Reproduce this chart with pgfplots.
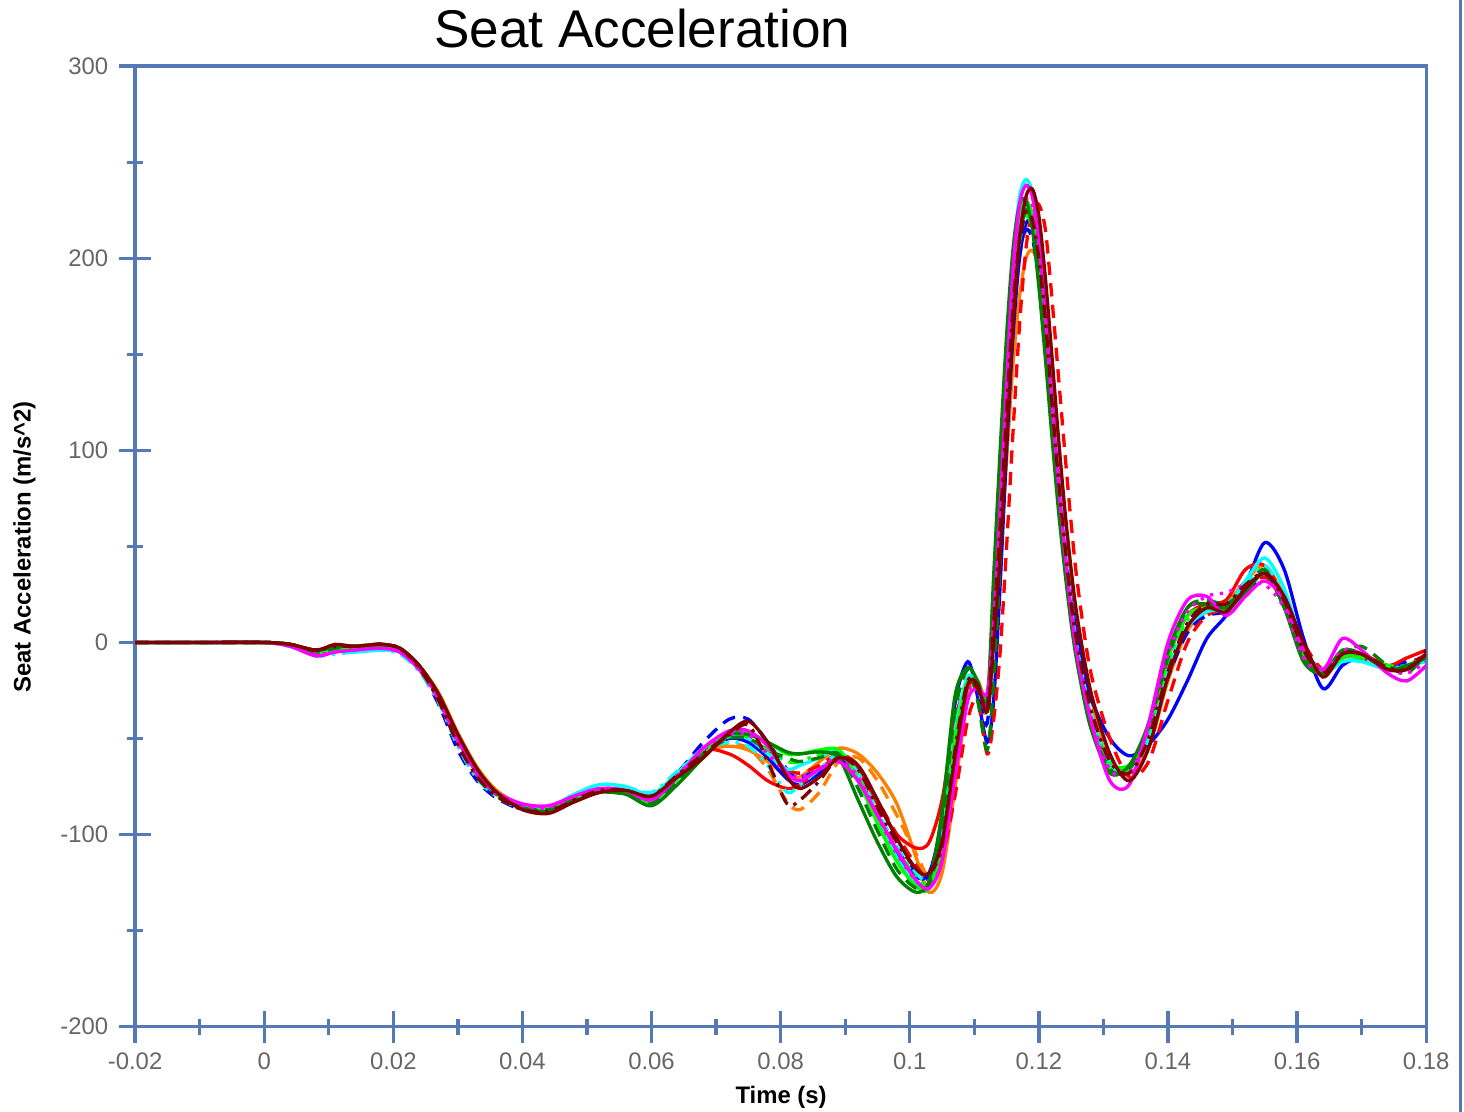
\documentclass[border=0pt]{standalone}
\usepackage{pgfplots}
\pgfplotsset{compat=1.18}
\usepackage{pgfplotstable}
\usepackage{fontspec}
\setmainfont{Liberation Sans}
\definecolor{axisblue}{HTML}{5479B4}
\definecolor{tickgray}{HTML}{666666}
\definecolor{cblue}{HTML}{0000FF}
\definecolor{cred}{HTML}{FF0000}
\definecolor{cgreen}{HTML}{008000}
\definecolor{clime}{HTML}{00FF00}
\definecolor{ccyan}{HTML}{00FFFF}
\definecolor{cmag}{HTML}{FF00FF}
\definecolor{corange}{HTML}{FF8000}
\definecolor{cbrown}{HTML}{800000}

% runs: b=blue r=red g=dark green l=lime c=cyan m=magenta o=orange k=brown; 1 solid, 2 broken
\pgfplotstableread{
x b1 b2 r1 r2 g1 g2 l1 l2 c1 c2 m1 m2 o1 o2 k1 k2
-0.020 0 0 0 0 0 0 0 0 0 0 0 0 0 0 0 0
-0.010 0 0 0 0 0 0 0 0 0 0 0 0 0 0 0 0
0.000 0 0 0 0 0 0 0 0 0 0 0 0 0 0 0 0
0.004 -1 -1 -1 -1 -1 -1 -1 -1 -2 -2 -2 -2 -1 -1 -1 -1
0.008 -5 -5 -4 -4 -4 -5 -5 -5 -6 -7 -7 -6 -4 -5 -4 -4
0.011 -3 -3 -2 -2 -2 -3 -3 -3 -4 -6 -5 -5 -2 -3 -1 -2
0.014 -3 -3 -3 -3 -2 -2 -3 -3 -5 -5 -4 -4 -2 -2 -2 -2
0.018 -1 -1 -1 -1 -1 -1 -2 -2 -4 -4 -3 -3 -1 -1 -1 -1
0.021 -4 -4 -3 -4 -3 -3 -4 -4 -5 -6 -5 -5 -3 -4 -3 -3
0.024 -13 -14 -12 -13 -12 -13 -13 -14 -14 -15 -14 -14 -12 -13 -12 -13
0.027 -28 -32 -27 -30 -27 -28 -28 -30 -29 -31 -29 -30 -26 -29 -27 -30
0.030 -50 -56 -48 -52 -48 -50 -50 -53 -51 -54 -51 -52 -47 -51 -48 -53
0.033 -68 -72 -66 -69 -66 -68 -68 -70 -68 -71 -68 -69 -65 -68 -66 -70
0.036 -79 -81 -78 -79 -78 -79 -79 -80 -79 -80 -78 -79 -77 -79 -78 -80
0.040 -86 -87 -85 -86 -86 -86 -86 -87 -85 -86 -84 -85 -85 -86 -87 -87
0.044 -87 -87 -86 -87 -88 -87 -87 -87 -86 -86 -85 -86 -86 -87 -89 -88
0.048 -81 -81 -80 -81 -83 -82 -81 -81 -79 -79 -80 -80 -80 -81 -83 -82
0.052 -77 -77 -77 -77 -78 -78 -77 -77 -74 -74 -76 -76 -77 -77 -78 -77
0.056 -78 -78 -78 -78 -79 -79 -78 -78 -75 -75 -77 -77 -78 -78 -77 -77
0.060 -82 -80 -81 -82 -85 -84 -83 -82 -79 -78 -82 -81 -81 -82 -80 -80
0.064 -70 -68 -70 -71 -74 -72 -71 -70 -68 -67 -70 -69 -70 -71 -70 -69
0.068 -57 -52 -56 -57 -60 -58 -57 -56 -55 -56 -55 -56 -57 -58 -60 -58
0.072 -50 -40 -58 -50 -48 -50 -48 -49 -49 -52 -46 -48 -54 -53 -47 -48
0.075 -52 -40 -64 -50 -48 -50 -47 -49 -50 -54 -46 -48 -56 -55 -41 -43
0.078 -60 -52 -72 -58 -52 -56 -52 -56 -58 -64 -54 -58 -62 -66 -52 -62
0.081 -71 -66 -76 -66 -57 -60 -58 -62 -66 -78 -68 -68 -70 -83 -70 -84
0.083 -74 -70 -74 -68 -58 -62 -58 -62 -64 -74 -72 -70 -70 -87 -76 -82
0.086 -68 -66 -66 -64 -57 -60 -56 -58 -60 -66 -66 -66 -62 -78 -70 -72
0.089 -60 -60 -60 -58 -60 -58 -56 -56 -56 -58 -62 -60 -55 -62 -60 -60
0.092 -72 -70 -66 -64 -82 -76 -72 -70 -70 -68 -72 -70 -58 -60 -64 -66
0.095 -92 -90 -84 -82 -104 -98 -94 -90 -92 -88 -90 -90 -68 -72 -82 -86
0.098 -110 -108 -100 -100 -122 -118 -114 -108 -112 -106 -108 -110 -84 -90 -102 -104
0.101 -122 -120 -107 -116 -130 -128 -127 -122 -126 -120 -124 -124 -112 -110 -118 -118
0.103 -120 -122 -104 -124 -124 -126 -128 -126 -126 -124 -128 -128 -130 -122 -120 -120
0.105 -92 -100 -82 -112 -88 -96 -104 -106 -102 -104 -114 -112 -120 -112 -104 -106
0.107 -32 -48 -40 -80 -28 -36 -50 -52 -46 -50 -70 -62 -76 -70 -60 -56
0.109 -10 -18 -22 -40 -13 -14 -20 -20 -18 -20 -30 -26 -28 -26 -22 -20
0.1105 -28 -26 -22 -30 -20 -30 -22 -22 -22 -24 -24 -24 -20 -24 -22 -24
0.112 -52 -42 -30 -58 -30 -56 -28 -32 -30 -34 -26 -32 -30 -38 -36 -34
0.113 -30 10 20 -40 35 -20 25 15 20 15 10 10 5 5 0 10
0.114 30 70 85 -5 100 40 85 70 80 70 70 65 45 50 45 60
0.115 100 130 140 50 160 110 145 125 145 130 135 125 95 110 105 120
0.116 160 175 190 110 205 170 195 175 200 180 195 180 145 165 165 175
0.117 200 205 218 165 228 210 222 208 232 212 228 215 180 200 210 208
0.118 218 215 225 205 230 225 230 222 241 226 238 230 200 214 232 224
0.119 218 210 218 225 215 220 222 216 234 224 232 228 204 212 236 220
0.120 200 190 195 228 185 195 198 195 210 205 208 205 195 198 222 200
0.121 165 155 160 215 148 160 160 162 172 170 170 170 172 168 190 168
0.122 122 112 118 180 108 118 118 120 128 128 126 128 135 128 150 126
0.123 82 75 78 140 70 78 78 80 86 88 84 86 95 88 108 86
0.124 50 42 44 100 38 44 42 46 50 52 48 50 60 52 70 52
0.125 22 14 14 62 10 14 12 16 18 20 16 18 28 20 38 20
0.126 2 -6 -8 30 -12 -8 -10 -6 -6 -4 -8 -6 4 -2 12 -2
0.128 -28 -38 -40 -15 -44 -42 -42 -38 -38 -36 -40 -38 -28 -34 -25 -34
0.131 -50 -64 -64 -50 -68 -66 -66 -62 -64 -62 -72 -66 -60 -62 -58 -62
0.134 -59 -66 -64 -70 -64 -66 -66 -64 -66 -64 -74 -68 -68 -66 -72 -68
0.137 -53 -48 -44 -62 -42 -44 -45 -46 -50 -48 -42 -45 -55 -50 -55 -50
0.140 -40 -18 -8 -30 -5 -8 -8 -10 -14 -12 0 -6 -20 -16 -18 -15
0.143 -20 5 14 0 18 18 14 12 8 10 22 16 6 8 8 10
0.146 2 14 20 14 20 22 18 18 16 18 24 24 16 18 18 20
0.149 14 16 22 18 18 20 16 18 18 20 14 26 20 22 16 20
0.152 30 24 38 28 26 28 26 28 32 30 24 30 32 30 28 30
0.155 52 36 40 34 36 38 36 36 44 40 32 30 40 38 36 36
0.158 38 22 22 24 18 20 20 22 28 24 22 18 24 22 24 22
0.161 2 -4 -8 0 -10 -8 -6 -4 -2 -4 -4 -8 -2 -4 0 -4
0.164 -24 -14 -16 -14 -16 -16 -16 -16 -16 -14 -14 -16 -16 -14 -18 -16
0.167 -12 -10 -8 -8 -4 -6 -8 -8 -10 -10 2 -4 -8 -6 -6 -6
0.170 -8 -8 -6 -8 -6 -2 -6 -8 -10 -8 -4 -6 -8 -8 -6 -6
0.174 -12 -12 -12 -14 -14 -12 -14 -12 -14 -13 -16 -14 -14 -13 -14 -13
0.177 -12 -10 -8 -12 -12 -16 -13 -12 -12 -12 -20 -16 -12 -14 -14 -14
0.180 -8 -8 -4 -6 -8 -6 -8 -8 -10 -8 -12 -10 -8 -8 -6 -4
}\seat

\begin{document}
\begin{tikzpicture}[font=\fontsize{7.2}{8.6}\selectfont]
\begin{axis}[
  at={(0,0)}, anchor=south west,
  scale only axis, width=13.67cm, height=10.17cm,
  xmin=-0.02, xmax=0.18, ymin=-200, ymax=300,
  xtick={-0.02,0,0.02,0.04,0.06,0.08,0.1,0.12,0.14,0.16,0.18},
  xticklabels={-0.02,0,0.02,0.04,0.06,0.08,0.1,0.12,0.14,0.16,0.18},
  ytick={-200,-100,0,100,200,300},
  yticklabels={-200,-100,0,100,200,300},
  minor x tick num=1, minor y tick num=1,
  tick pos=left, tick align=center,
  major tick length=0.34cm, minor tick length=0.17cm,
  axis line style={axisblue, line width=1pt},
  every tick/.style={axisblue, line width=1pt},
  tick label style={text=tickgray},
  xticklabel style={yshift=0.02cm},
  yticklabel style={xshift=0.01cm},
  every axis plot/.append style={line width=1pt, smooth},
]
\addplot[corange] table[x=x,y=o1]{\seat};
\addplot[corange, dash pattern=on 4pt off 2.5pt] table[x=x,y=o2]{\seat};
\addplot[cblue] table[x=x,y=b1]{\seat};
\addplot[cblue, dash pattern=on 4pt off 2.5pt] table[x=x,y=b2]{\seat};
\addplot[cred] table[x=x,y=r1]{\seat};
\addplot[cred, dash pattern=on 4pt off 2.5pt] table[x=x,y=r2]{\seat};
\addplot[ccyan] table[x=x,y=c1]{\seat};
\addplot[ccyan, dash pattern=on 4pt off 2pt on 1pt off 2pt] table[x=x,y=c2]{\seat};
\addplot[clime] table[x=x,y=l1]{\seat};
\addplot[clime, dash pattern=on 4pt off 2pt on 1pt off 2pt] table[x=x,y=l2]{\seat};
\addplot[cgreen] table[x=x,y=g1]{\seat};
\addplot[cgreen, dash pattern=on 4pt off 2.5pt] table[x=x,y=g2]{\seat};
\addplot[cmag] table[x=x,y=m1]{\seat};
\addplot[cmag, dash pattern=on 1pt off 2pt] table[x=x,y=m2]{\seat};
\addplot[cbrown] table[x=x,y=k1]{\seat};
\addplot[cbrown, dash pattern=on 4pt off 2pt on 1pt off 2pt] table[x=x,y=k2]{\seat};
\end{axis}
% title, axis labels
\node[anchor=base, font=\fontsize{16}{19}\selectfont] at (5.37,10.37) {Seat Acceleration};
\node[anchor=center, font=\bfseries\fontsize{7.2}{8.6}\selectfont] at (6.84,-0.75) {Time (s)};
\node[anchor=center, rotate=90, font=\bfseries\fontsize{7.2}{8.6}\selectfont] at (-1.17,5.08) {Seat Acceleration (m/s\textasciicircum 2)};
% neighbouring frame at the right edge
\draw[axisblue, line width=1pt] (14.03,-0.9) -- (14.03,10.87);
\pgfresetboundingbox
\path[use as bounding box] (-1.43,-0.90) rectangle (14.07,10.87);
\end{tikzpicture}
\end{document}
